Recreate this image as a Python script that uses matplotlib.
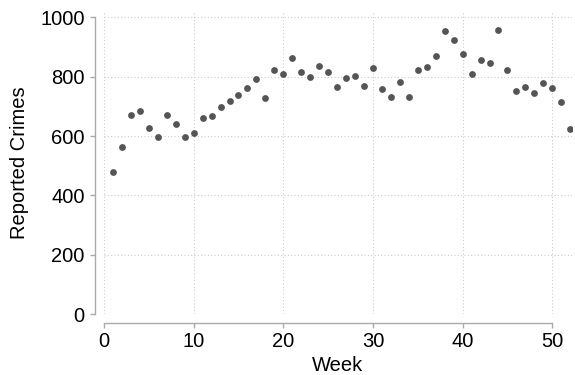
import matplotlib
matplotlib.use("Agg")
import matplotlib.pyplot as plt
import numpy as np

weeks = list(range(1, 53))
crimes = [478, 562, 671, 685, 628, 598, 670, 642, 595, 609,
          660, 667, 697, 719, 738, 762, 793, 729, 823, 809,
          864, 817, 800, 835, 817, 765, 797, 801, 769, 829,
          759, 730, 781, 732, 824, 831, 869, 954, 924, 878,
          808, 856, 846, 959, 824, 751, 766, 744, 779, 763,
          713, 625]
xticks = [0, 10, 20, 30, 40, 50]
yticks = [0, 200, 400, 600, 800, 1000]

plt.rcParams['font.family'] = ['Liberation Sans', 'DejaVu Sans']

fig = plt.figure(figsize=(5.75, 3.75), dpi=100)
ax = fig.add_axes([104/575, 1-314/375, 468/575, 302/375])

ax.scatter(weeks, crimes, s=24, color='#555555', zorder=3, linewidths=0)

ax.set_xlim(0, 52.2)
ax.set_ylim(0, 1018)
ax.set_xticks(xticks)
ax.set_yticks(yticks)
ax.grid(True, linestyle=(0, (1, 2)), color='#cccccc', linewidth=0.8)

for s in ['top', 'right']:
    ax.spines[s].set_visible(False)
ax.spines['left'].set_position(('outward', 6.8))
ax.spines['bottom'].set_position(('outward', 6.3))
ax.spines['left'].set_bounds(0, 1000)
ax.spines['bottom'].set_bounds(0, 50)
for s in ['left', 'bottom']:
    ax.spines[s].set_color('#aaaaaa')
    ax.spines[s].set_linewidth(1.0)
ax.tick_params(colors='#aaaaaa', labelcolor='black', labelsize=14.5, length=3.5, width=1.0)

ax.set_xlabel('Week', fontsize=14.5, labelpad=3)
ax.set_ylabel('Reported Crimes', fontsize=14.5, labelpad=8)

fig.savefig('out.png', dpi=100)
